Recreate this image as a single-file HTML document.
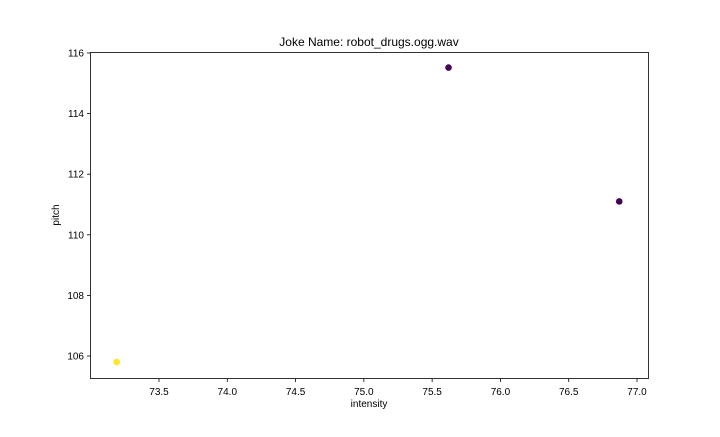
<!DOCTYPE html>
<html><head><meta charset="utf-8"><style>
body{margin:0;background:#fff;}
svg text{font-family:"Liberation Sans","DejaVu Sans",sans-serif;}
</style></head><body>
<svg width="720" height="432" xmlns="http://www.w3.org/2000/svg">
<rect width="720" height="432" fill="#fff"/>
<text x="369" y="46" font-size="12" text-anchor="middle">Joke Name: robot_drugs.ogg.wav</text>
<g id="xt"></g>
<g id="yt"></g>
<g id="pts"></g>
<rect x="90.5" y="52.5" width="558" height="326" fill="none" stroke="#000" stroke-width="0.8"/>
<text x="369" y="407" font-size="10" text-anchor="middle">intensity</text>
<text x="59" y="215" font-size="10" text-anchor="middle" transform="rotate(-90 59 215)">pitch</text>
</svg>
<script>
const xTicks=[73.5,74.0,74.5,75.0,75.5,76.0,76.5,77.0];
const yTicks=[106,108,110,112,114,116];
const xVals=[73.19,75.62,76.87];
const yVals=[105.8,115.52,111.1];
const colors=["#fde725","#440154","#440154"];
function X(v){return 159+(v-73.5)*(478/3.5);}
function Y(v){return 356-(v-106)*30.3;}
const NS="http://www.w3.org/2000/svg";
function mk(t,a,p){const e=document.createElementNS(NS,t);for(const k in a)e.setAttribute(k,a[k]);p.appendChild(e);return e;}
const xt=document.getElementById('xt'),yt=document.getElementById('yt'),pts=document.getElementById('pts');
xTicks.forEach(v=>{const x=X(v);
const l=mk('line',{x1:x,x2:x,y1:378.5,y2:382,stroke:'#000','stroke-width':0.8},xt);


const t=mk('text',{x:x,y:395,'font-size':10,'text-anchor':'middle'},xt);t.textContent=v.toFixed(1);

});
yTicks.forEach(v=>{const y=Y(v);
const l=mk('line',{x1:87,x2:90.5,y1:y,y2:y,stroke:'#000','stroke-width':0.8},yt);


const t=mk('text',{x:84,y:y+3.5,'font-size':10,'text-anchor':'end'},yt);t.textContent=v;

});
xVals.forEach((v,i)=>{const c=mk('circle',{cx:X(v),cy:Y(yVals[i]),r:3.3,fill:colors[i]},pts);

});
</script>
</body></html>
